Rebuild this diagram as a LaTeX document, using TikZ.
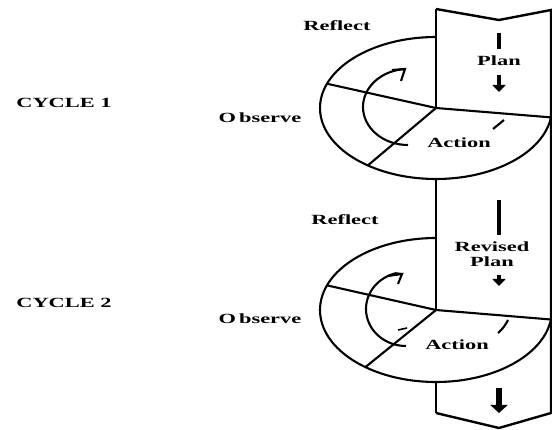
\documentclass[tikz,border=0pt]{standalone}
\usepackage{fontspec}
\newfontfamily\lblfont[FakeStretch=1.6]{Liberation Serif}
\usetikzlibrary{arrows.meta,calc}
\begin{document}
\begin{tikzpicture}[x=1pt,y=1pt,
  lbl/.style={font=\lblfont\bfseries\fontsize{14}{15}\selectfont, inner sep=0pt, align=center},
  band/.style={line width=2.4pt, line join=miter},
  pie/.style={line width=2.1pt},
  curl/.style={line width=2.1pt},
  bar/.style={line width=4.5pt},
  darrow/.style={line width=3.5pt, -{Triangle[width=13pt,length=7pt]}}]
\useasboundingbox (0,0) rectangle (552,-430);

% band outline
\coordinate (tl) at (436,-9);
\coordinate (tn) at (499,-20);
\coordinate (tr) at (551,-10);
\coordinate (br) at (551,-413);
\coordinate (bn) at (499,-428);
\coordinate (bl) at (436,-413);
\draw[band] (tl) -- (tn) -- (tr) -- (br) -- (bn) -- (bl);

% cycle 1 wheel
\coordinate (c1) at (436,-108);
\coordinate (t1) at ($(c1)+(90:116 and 71)$);
\coordinate (b1) at ($(c1)+(270:116 and 71)$);
\coordinate (r1) at ($(c1)+(352.4:116 and 71)$);
\coordinate (l1) at ($(c1)+(160:116 and 71)$);
\coordinate (d1) at ($(c1)+(234:116 and 71)$);
\draw[pie] (t1) arc[start angle=90, end angle=352.4, x radius=116, y radius=71];
\draw[pie] (l1) -- (c1) -- (r1);
\draw[pie] (c1) -- (d1);
\draw[band] (tl) -- (c1);

% cycle 2 wheel
\coordinate (c2) at (436,-310);
\coordinate (t2) at ($(c2)+(90:116 and 72)$);
\coordinate (b2) at ($(c2)+(270:116 and 72)$);
\coordinate (r2) at ($(c2)+(352.4:116 and 72)$);
\coordinate (l2) at ($(c2)+(160:116 and 72)$);
\coordinate (d2) at ($(c2)+(232.5:116 and 72)$);
\draw[pie] (t2) arc[start angle=90, end angle=352.4, x radius=116, y radius=72];
\draw[pie] (l2) -- (c2) -- (r2);
\draw[pie] (c2) -- (d2);
\draw[band] (b1) -- (t2);
\draw[band] (t2) -- (c2);
\draw[band] (b2) -- (bl);

% curved arrows
\draw[curl] (408,-145) arc[start angle=270, end angle=100, x radius=45, y radius=38] -- (405,-69);
\draw[curl, line join=miter] (392,-70) -- (405,-69) -- (401,-81);
\draw[curl] (406,-346) arc[start angle=270, end angle=105, x radius=40, y radius=37] -- (402,-274);
\draw[curl, line join=miter] (388,-276) -- (402,-274) -- (398,-284);

% small marks
\draw[curl] (493,-129) -- (504,-120);
\draw[curl] (498,-333) to[bend right=10] (508,-320);
\draw[line width=1.6pt] (398,-330) -- (407,-328);

% band arrows
\draw[bar] (499,-33) -- (499,-49);
\draw[darrow] (499,-75) -- (499,-92);
\draw[bar] (499,-200) -- (499,-235);
\draw[darrow] (499,-275) -- (499,-286);
\draw[line width=6.5pt, -{Triangle[width=17pt,length=8pt]}] (499,-388) -- (499,-413);

% labels
\node[lbl] (reflect1) at (337,-26) {Reflect};
\node[lbl] (plan1) at (499,-61) {Plan};
\node[lbl] (cycle1) at (64,-103) {CYCLE 1};
\node[lbl] (observe1) at (260,-118) {O\hspace{3pt}bserve};
\node[lbl] (action1) at (459,-143) {Action};
\node[lbl] (reflect2) at (345,-220) {Reflect};
\node[lbl] (plan2) at (492,-254.5) {Revised\\Plan};
\node[lbl] (cycle2) at (64,-303) {CYCLE 2};
\node[lbl] (observe2) at (260,-319) {O\hspace{3pt}bserve};
\node[lbl] (action2) at (457,-345) {Action};
\end{tikzpicture}
\end{document}
